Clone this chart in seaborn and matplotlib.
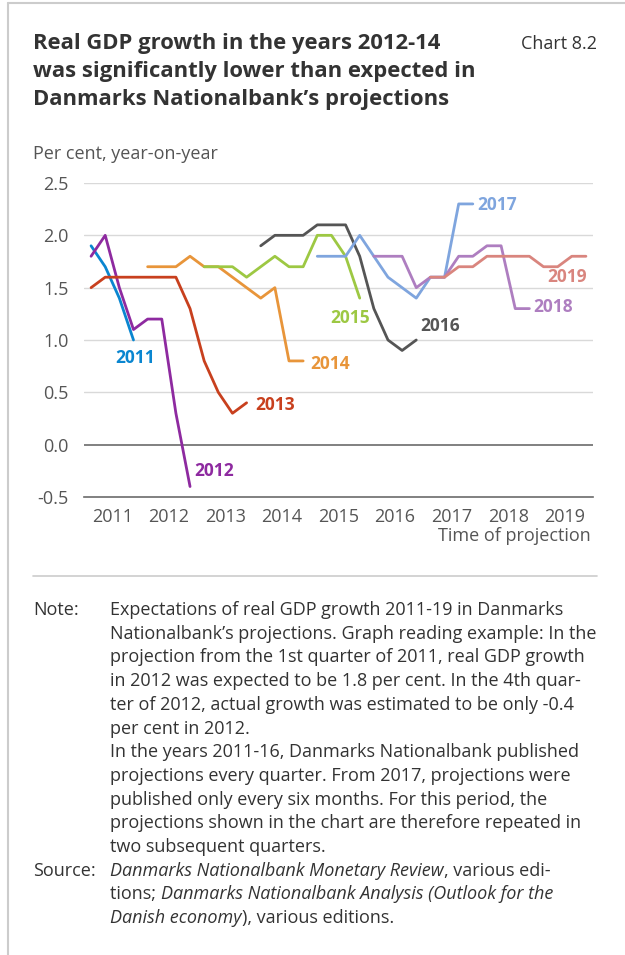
import numpy as np
import pandas as pd
import matplotlib
matplotlib.use("Agg")
import matplotlib.pyplot as plt
import seaborn as sns
from matplotlib.lines import Line2D

# Quarterly projections 2011Q1 .. 2019Q4 (index 0..35)
years = ["2011", "2012", "2013", "2014", "2015", "2016", "2017", "2018", "2019"]
start_q = [0, 0, 0, 4, 8, 12, 16, 20, 24]

g2011 = [1.9, 1.7, 1.4, 1.0]
g2012 = [1.8, 2.0, 1.5, 1.1, 1.2, 1.2, 0.3, -0.4]
g2013 = [1.5, 1.6, 1.6, 1.6, 1.6, 1.6, 1.6, 1.3, 0.8, 0.5, 0.3, 0.4]
g2014 = [1.7, 1.7, 1.7, 1.8, 1.7, 1.7, 1.6, 1.5, 1.4, 1.5, 0.8, 0.8]
g2015 = [1.7, 1.7, 1.7, 1.6, 1.7, 1.8, 1.7, 1.7, 2.0, 2.0, 1.8, 1.4]
g2016 = [1.9, 2.0, 2.0, 2.0, 2.1, 2.1, 2.1, 1.8, 1.3, 1.0, 0.9, 1.0]
g2017 = [1.8, 1.8, 1.8, 2.0, 1.8, 1.6, 1.5, 1.4, 1.6, 1.6, 2.3, 2.3]
g2018 = [1.8, 1.8, 1.8, 1.5, 1.6, 1.6, 1.8, 1.8, 1.9, 1.9, 1.3, 1.3]
g2019 = [1.6, 1.6, 1.7, 1.7, 1.8, 1.8, 1.8, 1.8, 1.7, 1.7, 1.8, 1.8]
series = [g2011, g2012, g2013, g2014, g2015, g2016, g2017, g2018, g2019]

colors = ["#0a86d0", "#8e2aa0", "#c8401e", "#e8953a", "#9dc843",
          "#555555", "#7fa5de", "#ae7ec0", "#d9857e"]

# label positions (quarter index, value)
label_x = [3.1, 8.7, 13.0, 16.9, 18.3, 24.7, 28.7, 32.7, 33.7]
label_y = [0.83, -0.25, 0.38, 0.77, 1.21, 1.13, 2.29, 1.32, 1.60]

year_ticks = ["2011", "2012", "2013", "2014", "2015", "2016", "2017", "2018", "2019"]

rows = []
for yr, s0, vals in zip(years, start_q, series):
    for k, v in enumerate(vals):
        rows.append({"year": yr, "q": s0 + k, "value": v})
df = pd.DataFrame(rows)

sns.set_style("white")
plt.rcParams["font.family"] = ["Open Sans", "DejaVu Sans"]
TXT = "#333333"
GREY = "#555555"
FS = 13

fig = plt.figure(figsize=(6.25, 9.55), dpi=100)
W, H = 625, 955


def fx(px):
    return px / W


def fy(py):
    return 1 - py / H


ax = fig.add_axes([fx(84), fy(497), fx(593) - fx(84), fy(183) - fy(497)])

for y in [0.5, 1.0, 1.5, 2.0, 2.5]:
    ax.axhline(y, color="#d9d9d9", lw=1, zorder=0)
ax.axhline(0, color="#6b6b6b", lw=1.2, zorder=1)

sns.lineplot(data=df, x="q", y="value", hue="year", palette=colors,
             estimator=None, errorbar=None, legend=False, lw=2, ax=ax, zorder=3)

for yr, c, lx, ly in zip(years, colors, label_x, label_y):
    ax.text(lx, ly, yr, color=c, fontsize=12.5, fontweight="bold",
            ha="center", va="center")

ax.set_xlim(-0.5, 35.5)
ax.set_ylim(-0.5, 2.5)
ax.set_yticks([-0.5, 0.0, 0.5, 1.0, 1.5, 2.0, 2.5])
ax.set_yticklabels(["-0.5", "0.0", "0.5", "1.0", "1.5", "2.0", "2.5"])
ax.set_xticks([1.5 + 4 * i for i in range(9)])
ax.set_xticklabels(year_ticks)
ax.set_xticks(np.arange(-0.5, 36, 1), minor=True)
ax.tick_params(axis="x", which="major", length=0, pad=8, labelsize=FS, labelcolor=GREY)
ax.tick_params(axis="x", which="minor", length=4, direction="in", color="#6b6b6b", width=1)
ax.tick_params(axis="y", length=0, pad=11, labelsize=FS, labelcolor=GREY)
ax.set_xlabel("")
ax.set_ylabel("")
for side in ["top", "right", "left"]:
    ax.spines[side].set_visible(False)
ax.spines["bottom"].set_color("#6b6b6b")
ax.spines["bottom"].set_linewidth(1.2)
for lbl in ax.get_yticklabels():
    lbl.set_horizontalalignment("right")

# titles and texts
title_lines = ["Real GDP growth in the years 2012-14",
               "was significantly lower than expected in",
               "Danmarks Nationalbank\u2019s projections"]
for i, t in enumerate(title_lines):
    fig.text(fx(33), fy(44 + 28 * i), t, fontsize=15.8, fontweight="bold",
             color=TXT, ha="left", va="center")
fig.text(fx(521), fy(44), "Chart 8.2", fontsize=FS, color=TXT, ha="left", va="center")
fig.text(fx(33), fy(154), "Per cent, year-on-year", fontsize=FS, color=GREY,
         ha="left", va="center")
fig.text(fx(591), fy(536), "Time of projection", fontsize=FS, color=GREY,
         ha="right", va="center")

# frame lines
fig.add_artist(Line2D([fx(8), 1], [fy(3), fy(3)], color="#cccccc", lw=1.5))
fig.add_artist(Line2D([fx(8), fx(8)], [fy(3), 0], color="#cccccc", lw=1.5))
fig.add_artist(Line2D([fx(33), fx(597)], [fy(576), fy(576)], color="#cccccc", lw=1.2))

note_lines = [
    [("Expectations of real GDP growth 2011-19 in Danmarks", False)],
    [("Nationalbank\u2019s projections. Graph reading example: In the", False)],
    [("projection from the 1st quarter of 2011, real GDP growth", False)],
    [("in 2012 was expected to be 1.8 per cent. In the 4th quar-", False)],
    [("ter of 2012, actual growth was estimated to be only -0.4", False)],
    [("per cent in 2012.", False)],
    [("In the years 2011-16, Danmarks Nationalbank published", False)],
    [("projections every quarter. From 2017, projections were", False)],
    [("published only every six months. For this period, the", False)],
    [("projections shown in the chart are therefore repeated in", False)],
    [("two subsequent quarters.", False)],
    [("Danmarks Nationalbank Monetary Review", True), (", various edi-", False)],
    [("tions; ", False), ("Danmarks Nationalbank Analysis (Outlook for the", True)],
    [("Danish economy", True), ("), various editions.", False)],
]

fig.canvas.draw()
renderer = fig.canvas.get_renderer()
line_h = 23.7
for i, parts in enumerate(note_lines):
    ypx = 610 + line_h * i
    xpx = 110
    for txt, ital in parts:
        t = fig.text(fx(xpx), fy(ypx), txt, fontsize=FS, color=TXT,
                     style="italic" if ital else "normal", ha="left", va="center")
        bb = t.get_window_extent(renderer=renderer)
        xpx += bb.width
fig.text(fx(33), fy(610), "Note:", fontsize=FS, color=TXT, ha="left", va="center")
fig.text(fx(33), fy(610 + line_h * 11), "Source:", fontsize=FS, color=TXT,
         ha="left", va="center")

fig.savefig("out.png", dpi=100)
